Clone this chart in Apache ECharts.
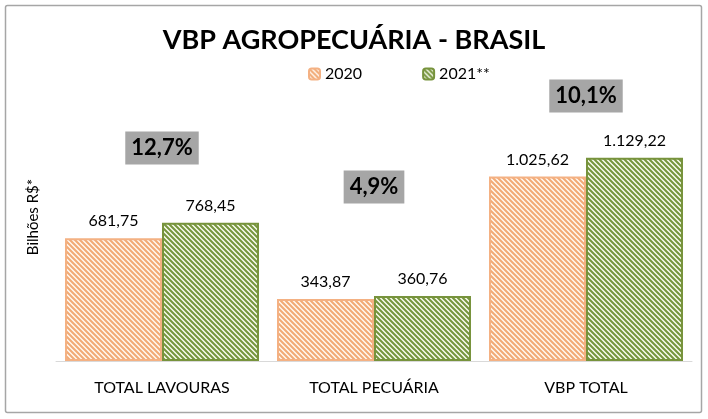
<!DOCTYPE html>
<html>
<head>
<meta charset="utf-8">
<script src="https://cdn.jsdelivr.net/npm/echarts@6/dist/echarts.min.js"></script>
<style>
  html, body { margin: 0; padding: 0; background: #fff; }
  #chart { width: 708px; height: 419px; }
</style>
</head>
<body>
<div id="chart"></div>
<script>
var categories = ['TOTAL LAVOURAS', 'TOTAL PECUÁRIA', 'VBP TOTAL'];
var seriesNames = ['2020', '2021**'];
var values2020 = [681.75, 343.87, 1025.62];
var values2021 = [768.45, 360.76, 1129.22];

// pixel rows for the growth boxes (layout only)
var growthBoxY = [148, 187, 96];

function fmt(v, d) {
	return v.toLocaleString('pt-BR', {minimumFractionDigits: d, maximumFractionDigits: d});
}

// diagonal hatch tile, lines running top-left to bottom-right
function hatch(line, back) {
	var c = document.createElement('canvas');
	c.width = 5; c.height = 5;
	var ctx = c.getContext('2d');
	ctx.fillStyle = back;
	ctx.fillRect(0, 0, 5, 5);
	ctx.strokeStyle = line;
	ctx.lineWidth = 2.1;
	ctx.beginPath();
	ctx.moveTo(-1, -1); ctx.lineTo(6, 6);
	ctx.moveTo(-1, 4); ctx.lineTo(1, 6);
	ctx.moveTo(4, -1); ctx.lineTo(6, 1);
	ctx.stroke();
	return c;
}

var font = 'Lato, "Noto Sans", sans-serif';
var chart = echarts.init(document.getElementById('chart'));

var option = {
	backgroundColor: '#fff',
	animation: false,
	title: {
		text: 'VBP AGROPECUÁRIA - BRASIL',
		left: 'center',
		top: 22,
		textStyle: {color: '#000', fontFamily: font, fontWeight: 'bold', fontSize: 27}
	},
	legend: {
		left: 303,
		top: 61,
		itemWidth: 11,
		itemHeight: 11,
		itemGap: 60,
		selectedMode: false,
		textStyle: {color: '#000', fontFamily: font, fontSize: 16},
		data: seriesNames
	},
	grid: {left: 56, right: 16, top: 73, bottom: 58},
	xAxis: {
		type: 'category',
		data: categories,
		axisTick: {show: false},
		axisLine: {lineStyle: {color: '#d9d9d9', width: 1}},
		axisLabel: {color: '#000', fontFamily: font, fontSize: 16, margin: 19}
	},
	yAxis: {
		type: 'value',
		min: 0,
		max: 1600,
		name: 'Bilhões R$*',
		nameLocation: 'middle',
		nameGap: 15,
		nameTextStyle: {color: '#000', fontFamily: font, fontSize: 15},
		axisLine: {show: false},
		axisTick: {show: false},
		axisLabel: {show: false},
		splitLine: {show: false}
	},
	series: [
		{
			name: seriesNames[0],
			type: 'bar',
			data: values2020,
			barGap: '0%',
			barCategoryGap: '8.5%',
			itemStyle: {
				color: {image: hatch('#f2aa76', '#fffaf3'), repeat: 'repeat'},
				borderColor: '#f4b183',
				borderWidth: 2
			},
			label: {
				show: true, position: 'top', distance: 9,
				color: '#000', fontFamily: font, fontSize: 16,
				formatter: function (p) { return fmt(p.value, 2); }
			}
		},
		{
			name: seriesNames[1],
			type: 'bar',
			data: values2021,
			itemStyle: {
				color: {image: hatch('#77963e', '#fbfdf2'), repeat: 'repeat'},
				borderColor: '#77933c',
				borderWidth: 2
			},
			label: {
				show: true, position: 'top', distance: 9,
				color: '#000', fontFamily: font, fontSize: 16,
				formatter: function (p) { return fmt(p.value, 2); }
			}
		}
	]
};
chart.setOption(option);

var elements = [{
	type: 'rect',
	shape: {x: 5.5, y: 5.5, width: 696, height: 407, r: 2},
	style: {fill: 'none', stroke: '#a6a6a6', lineWidth: 1.5},
	silent: true
}];
categories.forEach(function (c, i) {
	var growth = (values2021[i] / values2020[i] - 1) * 100;
	var x = chart.convertToPixel({xAxisIndex: 0}, i);
	elements.push({
		type: 'text',
		x: x,
		y: growthBoxY[i],
		style: {
			text: fmt(growth, 1) + '%',
			fill: '#000',
			font: 'bold 22px ' + font,
			align: 'center',
			verticalAlign: 'middle',
			backgroundColor: '#a6a6a6',
			padding: [6, 6, 5, 6]
		}
	});
});
chart.setOption({graphic: {elements: elements}});
</script>
</body>
</html>
